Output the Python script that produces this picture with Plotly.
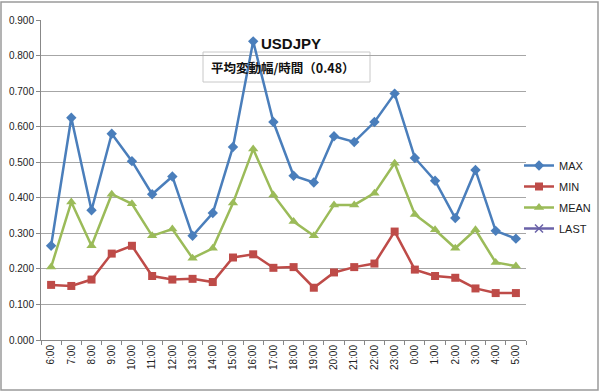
import plotly.graph_objects as go

hours = ["6:00", "7:00", "8:00", "9:00", "10:00", "11:00", "12:00", "13:00", "14:00",
         "15:00", "16:00", "17:00", "18:00", "19:00", "20:00", "21:00", "22:00", "23:00",
         "0:00", "1:00", "2:00", "3:00", "4:00", "5:00"]
max_vals = [0.265, 0.625, 0.365, 0.580, 0.503, 0.410, 0.460, 0.293, 0.357, 0.543, 0.840, 0.613,
            0.462, 0.443, 0.573, 0.557, 0.613, 0.693, 0.512, 0.448, 0.343, 0.478, 0.307, 0.285]
min_vals = [0.155, 0.152, 0.170, 0.243, 0.265, 0.180, 0.170, 0.172, 0.163, 0.232, 0.241, 0.203,
            0.205, 0.147, 0.190, 0.205, 0.215, 0.305, 0.198, 0.180, 0.175, 0.145, 0.132, 0.132]
mean_vals = [0.205, 0.388, 0.265, 0.410, 0.383, 0.293, 0.312, 0.230, 0.258, 0.385, 0.537, 0.408,
             0.333, 0.293, 0.380, 0.380, 0.413, 0.497, 0.353, 0.310, 0.258, 0.310, 0.218, 0.208]
last_vals = [None] * len(hours)
y_ticks = [0.0, 0.1, 0.2, 0.3, 0.4, 0.5, 0.6, 0.7, 0.8, 0.9]

title_text = "USDJPY"
subtitle_text = "平均変動幅/時間（0.48）"

W, H = 600, 392
ML, MR, MT, MB = 41, 74, 20, 52
PW, PH = W - ML - MR, H - MT - MB

def px_x(x):
    return (x - ML) / PW

def px_y(y):
    return (H - MB - y) / PH

fig = go.Figure()
fig.add_trace(go.Scatter(x=hours, y=max_vals, name="MAX", mode="lines+markers", legend="legend",
                         line=dict(color="#4A7EBB", width=2.5),
                         marker=dict(symbol="diamond", size=8, color="#4A7EBB")))
fig.add_trace(go.Scatter(x=hours, y=min_vals, name="MIN", mode="lines+markers", legend="legend2",
                         line=dict(color="#BE4B48", width=2.5),
                         marker=dict(symbol="square", size=8, color="#BE4B48")))
fig.add_trace(go.Scatter(x=hours, y=mean_vals, name="MEAN", mode="lines+markers", legend="legend3",
                         line=dict(color="#9BBB59", width=2.5),
                         marker=dict(symbol="triangle-up", size=9, color="#9BBB59")))
fig.add_trace(go.Scatter(x=hours, y=last_vals, name="LAST", mode="lines+markers", legend="legend4",
                         line=dict(color="#6A62A8", width=2.5),
                         marker=dict(symbol="x-thin", size=8, line=dict(color="#6A62A8", width=1.5))))

def leg(top):
    return dict(x=px_x(519), y=px_y(top), xanchor="left", yanchor="top",
                font=dict(size=11, color="#222"), itemwidth=30, bgcolor="rgba(0,0,0,0)")

fig.update_layout(
    width=W, height=H,
    margin=dict(l=ML, r=MR, t=MT, b=MB, pad=0, autoexpand=False),
    paper_bgcolor="white", plot_bgcolor="white",
    font=dict(family="Liberation Sans, Arial, sans-serif", size=10, color="#222"),
    showlegend=True,
    legend=leg(151), legend2=leg(172), legend3=leg(193), legend4=leg(214),
    xaxis=dict(type="category", categoryorder="array", categoryarray=hours,
               showgrid=False, showline=True, linecolor="#888", linewidth=1,
               ticks="outside", ticklen=4, tickcolor="#888", tickson="boundaries",
               tickangle=-90, tickfont=dict(size=10, color="#222"), automargin=False,
               range=[-0.5, len(hours) - 0.5], fixedrange=True),
    yaxis=dict(range=[0, 0.9], tickvals=y_ticks, tickformat=".3f",
               showgrid=True, gridcolor="#A6A6A6", gridwidth=1.3,
               showline=True, linecolor="#888", linewidth=1, automargin=False,
               ticks="outside", ticklen=4, tickcolor="#888",
               tickfont=dict(size=10, color="#222"), zeroline=False),
    shapes=[
        dict(type="rect", xref="paper", yref="paper",
             x0=px_x(1), x1=px_x(598), y0=px_y(390), y1=px_y(2),
             line=dict(color="#9A9A9A", width=1.5), fillcolor="rgba(0,0,0,0)", layer="below"),
        dict(type="rect", xref="paper", yref="paper",
             x0=px_x(203), x1=px_x(370), y0=px_y(82), y1=px_y(52),
             line=dict(color="#C8C8C8", width=1), fillcolor="rgba(255,255,255,0.6)", layer="below"),
    ],
    annotations=[
        dict(text="<b>" + title_text + "</b>", xref="paper", yref="paper",
             x=px_x(291), y=px_y(43), showarrow=False, xanchor="center", yanchor="middle",
             font=dict(family="Liberation Sans, Arial, sans-serif", size=15, color="#111")),
        dict(text="<b>" + subtitle_text + "</b>", xref="paper", yref="paper",
             x=px_x(283), y=px_y(67), showarrow=False, xanchor="center", yanchor="middle",
             font=dict(family="Noto Sans CJK JP, sans-serif", size=12.5, color="#111")),
    ],
)

fig.write_html("out.html", config={"displayModeBar": False},
               post_script="document.body.style.margin='0';")
